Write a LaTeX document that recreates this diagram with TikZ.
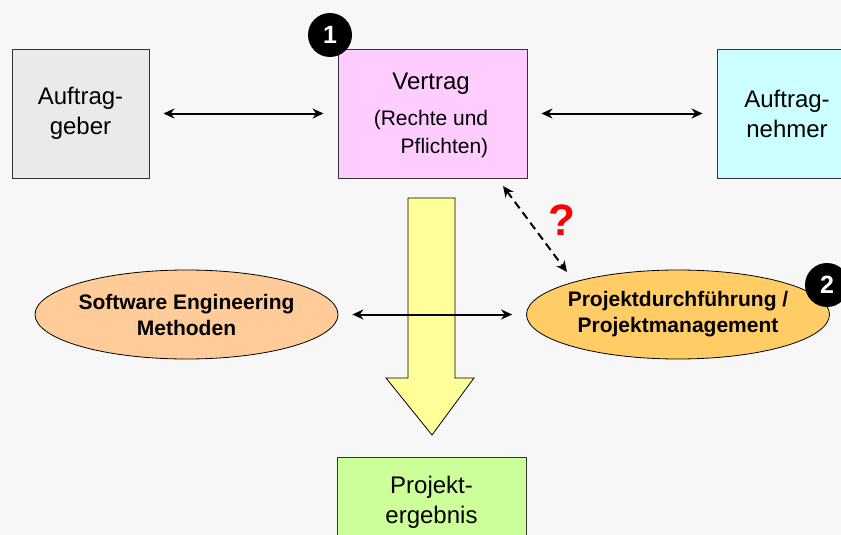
\documentclass[tikz,border=0pt]{standalone}
\usepackage{fontspec}
\setmainfont{Liberation Sans}
\usetikzlibrary{shapes.geometric,arrows.meta}

\definecolor{bggray}{HTML}{F7F7F7}
\definecolor{partgray}{HTML}{EAEAEA}
\definecolor{vertragpink}{HTML}{FFCCFF}
\definecolor{nehmercyan}{HTML}{CCFFFF}
\definecolor{methodorange}{HTML}{FFCC99}
\definecolor{projorange}{HTML}{FFCC66}
\definecolor{flowyellow}{HTML}{FFFF99}
\definecolor{resultgreen}{HTML}{CCFF99}

\tikzset{
	partbox/.style={draw=black!80, line width=0.9pt, minimum height=129pt, align=center,
		font=\fontsize{24}{30}\selectfont},
	topic/.style={ellipse, draw=black, line width=0.8pt, minimum width=303pt, minimum height=89pt,
		align=center, inner xsep=-30pt, inner ysep=0pt, font=\bfseries\fontsize{21}{26}\selectfont},
	badge/.style={circle, fill=black, minimum size=44pt, inner sep=0pt, text=white,
		font=\bfseries\fontsize{25}{25}\selectfont},
	link/.style={<->, >={Stealth[length=11pt,width=10pt]}, line width=2pt,
		shorten <=14pt, shorten >=14pt}
}

\begin{document}
\begin{tikzpicture}[x=1pt,y=-1pt]
		\fill[bggray] (0,0) rectangle (841,535);
		\useasboundingbox (0,0) rectangle (841,535);
		% boxes in the top row
		\node[partbox, fill=partgray, minimum width=137pt] (geber) at (80.5,113.5) {Auftrag-\\geber};
		\node[partbox, fill=vertragpink, minimum width=189pt] (vertrag) at (432.5,113.5) {};
		\node[font=\fontsize{24}{28}\selectfont] (vtitle) at (431,84) {Vertrag};
		\node[font=\fontsize{21}{28}\selectfont, align=right] (vtext) at (431,134) {(Rechte und\\Pflichten)};
		\node[partbox, fill=nehmercyan, minimum width=140pt] (nehmer) at (787,113.5) {Auftrag-\\nehmer};
		\node[badge] (eins) at (330,35) {1};
		\draw[link] (geber) -- (vertrag);
		\draw[link] (vertrag) -- (nehmer);
		% big flow arrow
		\draw[fill=flowyellow, line width=0.8pt] (408,198) -- (455,198) -- (455,378) -- (474,378)
			-- (432,435) -- (386,378) -- (408,378) -- cycle;
		% ellipses
		\node[topic, fill=methodorange] (se) at (186.5,314.5) {Software Engineering\\Methoden};
		\node[topic, fill=projorange] (pm) at (678,314.5) {Projektdurchführung /\\Projektmanagement};
		\node[badge] (zwei) at (827,285) {2};
		\draw[link] (se) -- (pm);
		% open question
		\coordinate (qtop) at (503,186);
		\coordinate (qbot) at (567,272);
		\draw[<->, >={Stealth[length=11pt,width=10pt]}, line width=2pt, dash pattern=on 8pt off 5pt] (qtop) -- (qbot);
		\node[text=red, font=\bfseries\fontsize{44}{44}\selectfont] (frage) at (562,220) {?};
		% result
		\node[partbox, fill=resultgreen, minimum width=189pt, minimum height=90pt] (ergebnis) at (431.5,502) {Projekt-\\ergebnis};
	\end{tikzpicture}
\end{document}
